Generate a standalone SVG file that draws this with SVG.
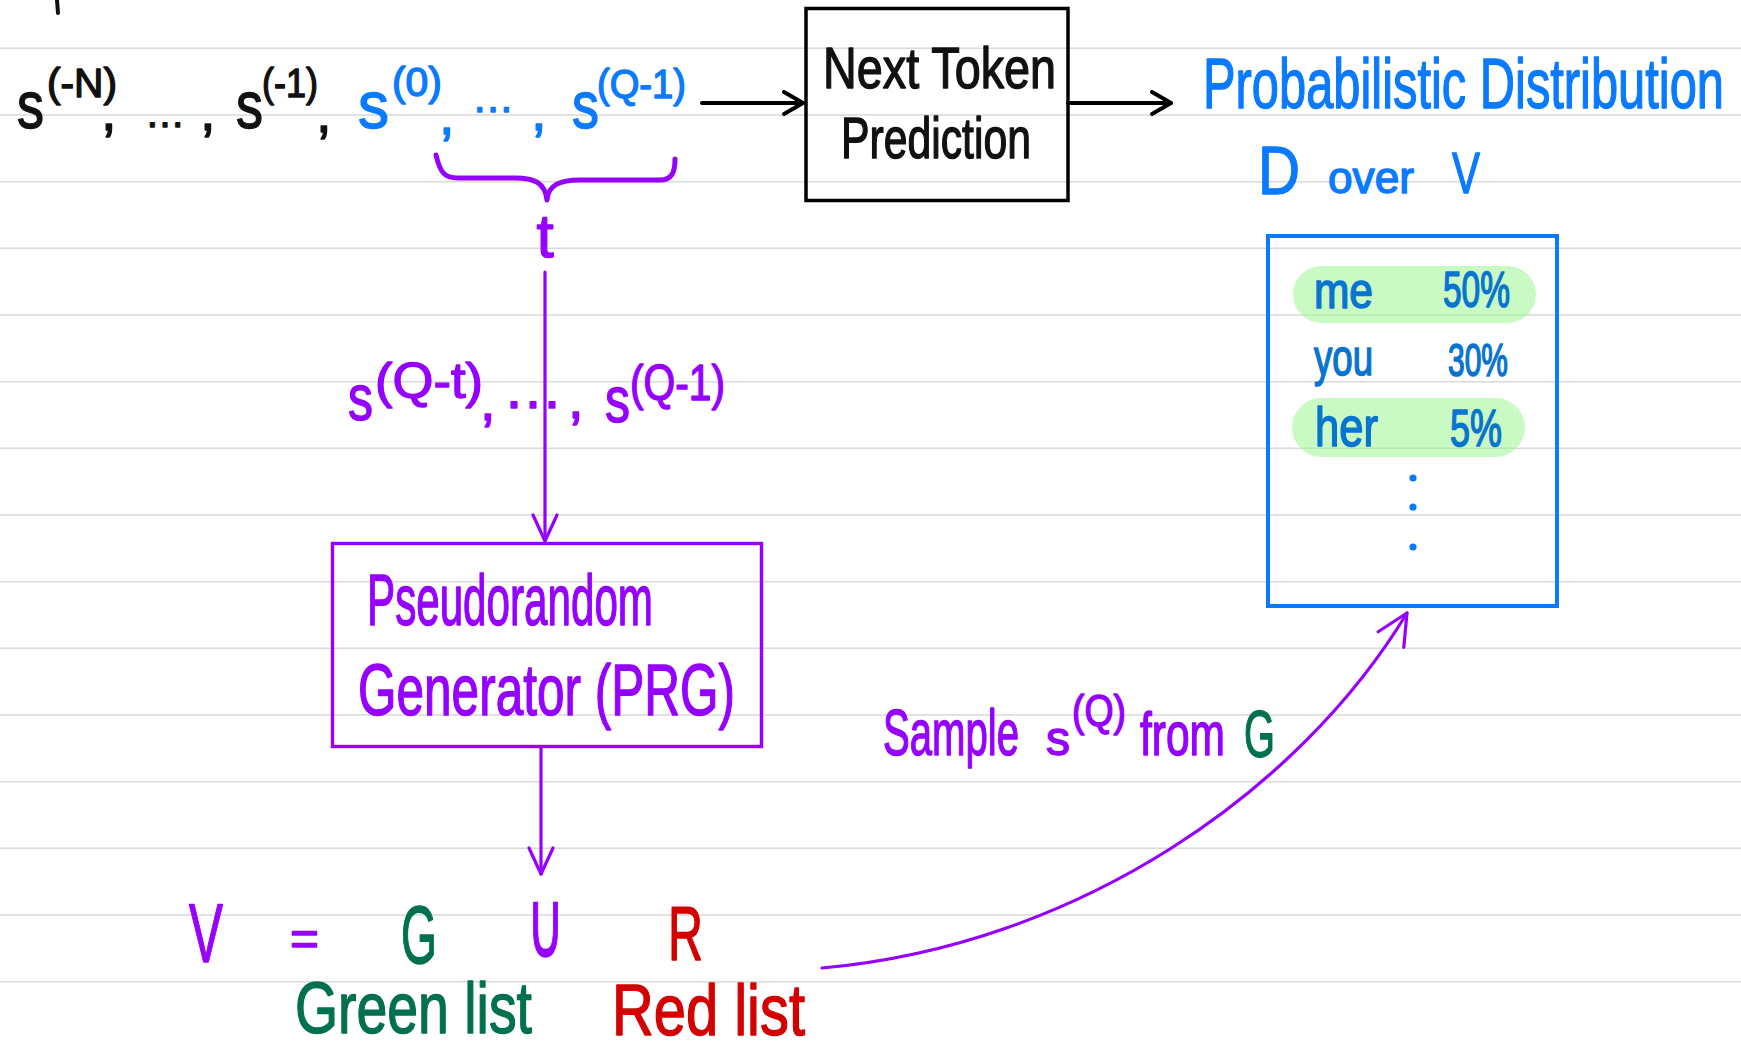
<svg xmlns="http://www.w3.org/2000/svg" width="1741" height="1043" viewBox="0 0 1741 1043">
<style>
 .hw { font-family: "Liberation Sans", Arial, sans-serif; stroke-linejoin: round; }
 .k { fill:#111; stroke:#111; stroke-width:1.4; }
 .b { fill:#0a7aff; stroke:#0a7aff; stroke-width:1.4; }
 .db { fill:#0874cf; stroke:#0874cf; stroke-width:1.6; }
 .p { fill:#9500ff; stroke:#9500ff; stroke-width:1.4; }
 .g { fill:#00704f; stroke:#00704f; stroke-width:1.4; }
 .r { fill:#d40000; stroke:#d40000; stroke-width:1.4; }
 .rule { stroke:#d9d9d9; stroke-width:1.5; }
 .ck { stroke:#000; stroke-width:4; fill:none; stroke-linecap:round; }
 .cp { stroke:#9500ff; stroke-width:3.2; fill:none; stroke-linecap:round; }
 .pill { fill:#9ef592; fill-opacity:0.55; }
</style>
<defs>
 <marker id="ak" markerUnits="userSpaceOnUse" viewBox="-24 -14 28 28" markerWidth="28" markerHeight="28" refX="0" refY="0" orient="auto" overflow="visible">
  <path d="M-19,-11 L0,0 L-19,11" fill="none" stroke="#000" stroke-width="4" stroke-linecap="round" stroke-linejoin="round"/>
 </marker>
 <marker id="ap" markerUnits="userSpaceOnUse" viewBox="-30 -15 32 30" markerWidth="32" markerHeight="30" refX="0" refY="0" orient="auto" overflow="visible">
  <path d="M-26,-12 L0,0 L-26,12" fill="none" stroke="#9500ff" stroke-width="3.2" stroke-linecap="round" stroke-linejoin="round"/>
 </marker>
 <marker id="ap2" markerUnits="userSpaceOnUse" viewBox="-34 -17 36 34" markerWidth="36" markerHeight="34" refX="0" refY="0" orient="auto" overflow="visible">
  <path d="M-31,-15 L0,0 L-31,15" fill="none" stroke="#9500ff" stroke-width="3.2" stroke-linecap="round" stroke-linejoin="round"/>
 </marker>
</defs>
<rect width="1741" height="1043" fill="#fff"/>
<g id="rules">
 <line class="rule" x1="0" y1="48.3" x2="1741" y2="48.3"/>
 <line class="rule" x1="0" y1="115" x2="1741" y2="115"/>
 <line class="rule" x1="0" y1="181.7" x2="1741" y2="181.7"/>
 <line class="rule" x1="0" y1="248.3" x2="1741" y2="248.3"/>
 <line class="rule" x1="0" y1="315" x2="1741" y2="315"/>
 <line class="rule" x1="0" y1="381.7" x2="1741" y2="381.7"/>
 <line class="rule" x1="0" y1="448.3" x2="1741" y2="448.3"/>
 <line class="rule" x1="0" y1="515" x2="1741" y2="515"/>
 <line class="rule" x1="0" y1="581.7" x2="1741" y2="581.7"/>
 <line class="rule" x1="0" y1="648.3" x2="1741" y2="648.3"/>
 <line class="rule" x1="0" y1="715" x2="1741" y2="715"/>
 <line class="rule" x1="0" y1="781.7" x2="1741" y2="781.7"/>
 <line class="rule" x1="0" y1="848.3" x2="1741" y2="848.3"/>
 <line class="rule" x1="0" y1="915" x2="1741" y2="915"/>
 <line class="rule" x1="0" y1="981.7" x2="1741" y2="981.7"/>
</g>
<line x1="57" y1="0" x2="58" y2="13" stroke="#111" stroke-width="4" stroke-linecap="round"/>

<g id="node-input-sequence">
 <text class="hw k" x="17" y="128" font-size="66" textLength="27" lengthAdjust="spacingAndGlyphs">s</text>
 <text class="hw k" x="47" y="97" font-size="40" textLength="70" lengthAdjust="spacingAndGlyphs">(-N)</text>
 <text class="hw k" x="101" y="130" font-size="56">,</text>
 <text class="hw k" x="145" y="127" font-size="40">…</text>
 <text class="hw k" x="200" y="130" font-size="56">,</text>
 <text class="hw k" x="236" y="128" font-size="66" textLength="27" lengthAdjust="spacingAndGlyphs">s</text>
 <text class="hw k" x="262" y="97" font-size="40" textLength="56" lengthAdjust="spacingAndGlyphs">(-1)</text>
 <text class="hw k" x="316" y="132" font-size="56">,</text>
 <text class="hw b" x="358" y="128" font-size="66" textLength="31" lengthAdjust="spacingAndGlyphs">s</text>
 <text class="hw b" x="392" y="96" font-size="40" textLength="50" lengthAdjust="spacingAndGlyphs">(0)</text>
 <text class="hw b" x="439" y="134" font-size="56">,</text>
 <text class="hw b" x="472" y="112" font-size="42">…</text>
 <text class="hw b" x="531" y="130" font-size="56">,</text>
 <text class="hw b" x="572" y="128" font-size="66" textLength="27" lengthAdjust="spacingAndGlyphs">s</text>
 <text class="hw b" x="597" y="98" font-size="40" textLength="89" lengthAdjust="spacingAndGlyphs">(Q-1)</text>
</g>

<g id="node-window-t">
 <path d="M436,155 C440,172 444,178 458,178 L515,178 C535,178 545,183 547,200 C548,185 560,180 580,180 L660,180 C672,180 675,172 675,159" fill="none" stroke="#9500ff" stroke-width="5" stroke-linecap="round" stroke-linejoin="round"/>
 <text class="hw p" x="545" y="257" font-size="62" text-anchor="middle">t</text>
</g>

<g id="node-next-token-prediction">
 <rect x="806" y="8.5" width="262" height="192" fill="none" stroke="#000" stroke-width="3.5"/>
 <text class="hw k" x="823" y="88" font-size="58" textLength="233" lengthAdjust="spacingAndGlyphs">Next Token</text>
 <text class="hw k" x="841" y="158" font-size="58" textLength="190" lengthAdjust="spacingAndGlyphs">Prediction</text>
</g>

<g id="node-distribution-label">
 <text class="hw b" x="1203" y="108" font-size="70" textLength="521" lengthAdjust="spacingAndGlyphs">Probabilistic Distribution</text>
 <text class="hw b" x="1258" y="194" font-size="68" textLength="42" lengthAdjust="spacingAndGlyphs">D</text>
 <text class="hw b" x="1328" y="193" font-size="44" textLength="86" lengthAdjust="spacingAndGlyphs">over</text>
 <text class="hw b" x="1452" y="193" font-size="58" textLength="28" lengthAdjust="spacingAndGlyphs">V</text>
</g>

<g id="node-distribution-box">
 <rect x="1268" y="236" width="289" height="370" fill="none" stroke="#0a7aff" stroke-width="4"/>
 <rect class="pill" x="1293" y="266" width="243" height="57" rx="28.5"/>
 <rect class="pill" x="1292" y="398" width="233" height="59" rx="29.5"/>
 <text class="hw db" x="1314" y="308" font-size="50" textLength="59" lengthAdjust="spacingAndGlyphs">me</text>
 <text class="hw db" x="1443" y="307" font-size="50" textLength="67" lengthAdjust="spacingAndGlyphs">50%</text>
 <text class="hw db" x="1314" y="375" font-size="52" textLength="59" lengthAdjust="spacingAndGlyphs">you</text>
 <text class="hw db" x="1448" y="376" font-size="46" textLength="60" lengthAdjust="spacingAndGlyphs">30%</text>
 <text class="hw db" x="1315" y="446" font-size="56" textLength="63" lengthAdjust="spacingAndGlyphs">her</text>
 <text class="hw db" x="1450" y="446" font-size="52" textLength="52" lengthAdjust="spacingAndGlyphs">5%</text>
 <circle cx="1413" cy="478" r="3.6" fill="#0a7aff"/>
 <circle cx="1413" cy="507" r="3.6" fill="#0a7aff"/>
 <circle cx="1413" cy="547" r="3.6" fill="#0a7aff"/>
</g>

<g id="node-prg">
 <rect x="332.5" y="543.5" width="429" height="203" fill="none" stroke="#9500ff" stroke-width="3.4"/>
 <text class="hw p" x="367" y="625" font-size="72" textLength="286" lengthAdjust="spacingAndGlyphs">Pseudorandom</text>
 <text class="hw p" x="358" y="715" font-size="72" textLength="377" lengthAdjust="spacingAndGlyphs">Generator (PRG)</text>
</g>

<g id="node-vocabulary">
 <text class="hw p" x="189" y="962" font-size="84" textLength="34" lengthAdjust="spacingAndGlyphs">V</text>
 <text class="hw p" x="290" y="955" font-size="48" stroke-width="3" textLength="29" lengthAdjust="spacingAndGlyphs">=</text>
 <text class="hw g" x="401" y="963" font-size="82" textLength="36" lengthAdjust="spacingAndGlyphs">G</text>
 <text x="527" y="957" font-family="'DejaVu Sans', sans-serif" font-size="94" fill="#9500ff" stroke="#9500ff" stroke-width="1.4" textLength="37" lengthAdjust="spacingAndGlyphs">∪</text>
 <text class="hw r" x="668" y="960" font-size="76" textLength="35" lengthAdjust="spacingAndGlyphs">R</text>
 <text class="hw g" x="295" y="1033" font-size="72" textLength="237" lengthAdjust="spacingAndGlyphs">Green list</text>
 <text class="hw r" x="612" y="1035" font-size="72" textLength="193" lengthAdjust="spacingAndGlyphs">Red list</text>
</g>

<g id="connectors">
 <line class="ck" x1="702" y1="103" x2="803" y2="103" marker-end="url(#ak)"/>
 <line class="ck" x1="1068" y1="103" x2="1171" y2="103" marker-end="url(#ak)"/>
 <line class="cp" x1="545" y1="272" x2="545" y2="541" marker-end="url(#ap)"/>
 <line class="cp" x1="541" y1="748" x2="541" y2="874" marker-end="url(#ap)"/>
 <path class="cp" d="M822,968 C1080,945 1300,790 1407,613" marker-end="url(#ap2)"/>
</g>

<g id="connector-labels">
 <text class="hw p" x="348" y="420" font-size="64" textLength="25" lengthAdjust="spacingAndGlyphs">s</text>
 <text class="hw p" x="375" y="398" font-size="50" textLength="108" lengthAdjust="spacingAndGlyphs">(Q-t)</text>
 <text class="hw p" x="480" y="420" font-size="56">,</text>
 <text class="hw p" x="503" y="408" font-size="60">…</text>
 <text class="hw p" x="568" y="418" font-size="56">,</text>
 <text class="hw p" x="605" y="422" font-size="64" textLength="25" lengthAdjust="spacingAndGlyphs">s</text>
 <text class="hw p" x="630" y="400" font-size="50" textLength="95" lengthAdjust="spacingAndGlyphs">(Q-1)</text>
 <text class="hw p" x="883" y="755" font-size="64" textLength="136" lengthAdjust="spacingAndGlyphs">Sample</text>
 <text class="hw p" x="1046" y="755" font-size="48" textLength="24" lengthAdjust="spacingAndGlyphs">s</text>
 <text class="hw p" x="1072" y="726" font-size="44" textLength="54" lengthAdjust="spacingAndGlyphs">(Q)</text>
 <text class="hw p" x="1140" y="755" font-size="62" textLength="85" lengthAdjust="spacingAndGlyphs">from</text>
 <text class="hw g" x="1244" y="757" font-size="66" textLength="31" lengthAdjust="spacingAndGlyphs">G</text>
</g>
</svg>
